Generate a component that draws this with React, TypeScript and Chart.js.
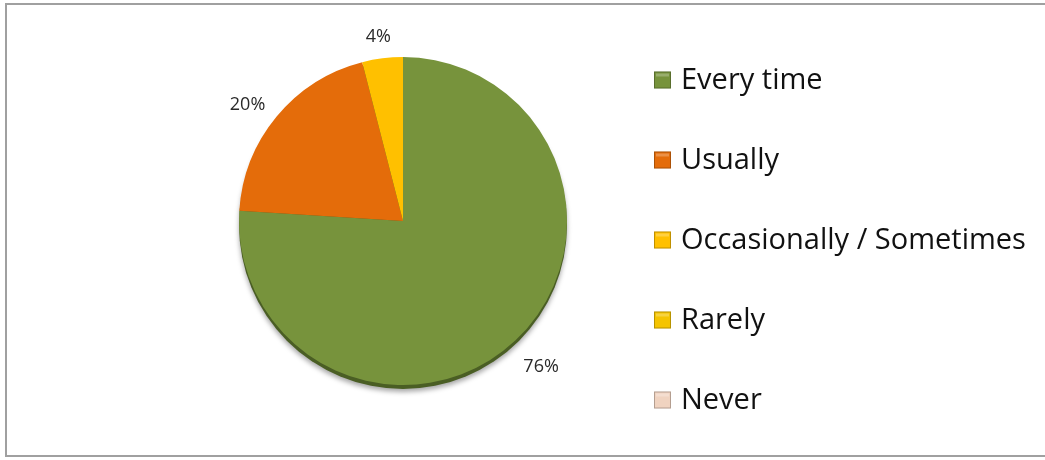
import React, { useEffect, useRef } from "react";
import { Chart, registerables } from "chart.js";

Chart.register(...registerables);

const categories = ["Every time", "Usually", "Occasionally / Sometimes", "Rarely", "Never"];
const values = [76, 20, 4, 0, 0];
const sliceColors = ["#77933C", "#E46C0A", "#FFC000", "#F5C400", "#F0D3C0"];
const shadowColor = "#4A5E24";

const FONT = "'Open Sans', 'Liberation Sans', sans-serif";

const pieShadow = {
  id: "pieShadow",
  beforeDatasetsDraw(chart: any) {
    const meta = chart.getDatasetMeta(0);
    const arc = meta.data[0];
    if (!arc) return;
    const { x, y, outerRadius } = arc.getProps(["x", "y", "outerRadius"], true);
    const ctx = chart.ctx;
    ctx.save();
    ctx.shadowColor = "rgba(0,0,0,0.35)";
    ctx.shadowBlur = 5;
    ctx.shadowOffsetY = 3;
    ctx.fillStyle = shadowColor;
    ctx.beginPath();
    ctx.ellipse(x, y + 4, outerRadius, outerRadius, 0, 0, Math.PI * 2);
    ctx.fill();
    ctx.restore();
  },
};

const outsideLabels = {
  id: "outsideLabels",
  afterDatasetsDraw(chart: any) {
    const ctx = chart.ctx;
    const meta = chart.getDatasetMeta(0);
    const data = chart.data.datasets[0].data as number[];
    const total = data.reduce((a: number, b: number) => a + b, 0);
    ctx.save();
    ctx.font = `18px ${FONT}`;
    ctx.fillStyle = "#2a2a2a";
    ctx.textAlign = "center";
    ctx.textBaseline = "middle";
    meta.data.forEach((arc: any, i: number) => {
      if (!data[i]) return;
      const p = arc.getProps(["x", "y", "startAngle", "endAngle", "outerRadius"], true);
      const mid = (p.startAngle + p.endAngle) / 2;
      const txt = Math.round((data[i] / total) * 100) + "%";
      const w = ctx.measureText(txt).width;
      const h = 16;
      const d = p.outerRadius + 20;
      const cx = p.x + Math.cos(mid) * d + Math.cos(mid) * w / 2;
      const cy = p.y + Math.sin(mid) * d + Math.sin(mid) * h / 2 + 6;
      ctx.fillText(txt, cx, cy);
    });
    ctx.restore();
  },
};

const sideLegend = {
  id: "sideLegend",
  afterDraw(chart: any) {
    const ctx = chart.ctx;
    const labels = chart.data.labels as string[];
    const colors = chart.data.datasets[0].backgroundColor as string[];
    const x0 = 654;
    const y0 = 80;
    const step = 80;
    const box = 17;
    ctx.save();
    ctx.font = `29px ${FONT}`;
    ctx.textBaseline = "middle";
    ctx.textAlign = "left";
    labels.forEach((lab, i) => {
      const cy = y0 + i * step;
      const top = cy - box / 2;
      ctx.fillStyle = colors[i];
      ctx.fillRect(x0, top, box, box);
      ctx.strokeStyle = "rgba(0,0,0,0.25)";
      ctx.lineWidth = 1;
      ctx.strokeRect(x0 + 0.5, top + 0.5, box - 1, box - 1);
      ctx.fillStyle = "rgba(255,255,255,0.25)";
      ctx.fillRect(x0 + 2, top + 2, box - 4, 3);
      ctx.fillStyle = "#111111";
      ctx.fillText(lab, x0 + box + 10, cy + 1);
    });
    ctx.restore();
  },
};

export default function App() {
  const ref = useRef<HTMLCanvasElement | null>(null);
  useEffect(() => {
    if (!ref.current) return;
    const chart = new Chart(ref.current, {
      type: "pie",
      data: {
        labels: categories,
        datasets: [
          {
            data: values,
            backgroundColor: sliceColors,
            borderWidth: 0,
          },
        ],
      },
      options: {
        responsive: false,
        animation: false,
        layout: { padding: { left: 238, right: 477, top: 57, bottom: 75 } },
        plugins: {
          legend: { display: false },
          tooltip: { enabled: false },
        },
      },
      plugins: [pieShadow, outsideLabels, sideLegend],
    });
    return () => chart.destroy();
  }, []);
  return (
    <div style={{ position: "fixed", left: 0, top: 0, width: 1045, height: 460, background: "#fff" }}>
      <div
        style={{
          position: "absolute",
          left: 5,
          top: 3,
          width: 1045 - 5,
          height: 457 - 3,
          boxSizing: "border-box",
          borderLeft: "2px solid #a0a0a0",
          borderTop: "2px solid #a0a0a0",
          borderBottom: "2px solid #a0a0a0",
        }}
      />
      <canvas ref={ref} width={1045} height={460} style={{ position: "absolute", left: 0, top: 0 }} />
    </div>
  );
}
